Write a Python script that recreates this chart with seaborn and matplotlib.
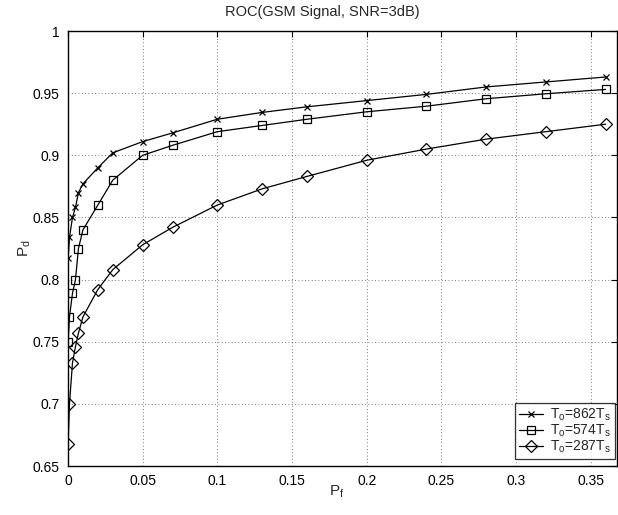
import numpy as np
import pandas as pd
import matplotlib
matplotlib.use("Agg")
import matplotlib.pyplot as plt
import seaborn as sns

# False-alarm probabilities (common to all curves)
pf = [0.0001, 0.001, 0.003, 0.005, 0.007, 0.01, 0.02, 0.03, 0.05, 0.07,
      0.1, 0.13, 0.16, 0.2, 0.24, 0.28, 0.32, 0.36]

# Detection probabilities for each observation time
pd_862 = [0.817, 0.834, 0.850, 0.858, 0.870, 0.877, 0.890, 0.902, 0.911, 0.918,
          0.929, 0.9345, 0.939, 0.944, 0.949, 0.955, 0.959, 0.963]
pd_574 = [0.750, 0.770, 0.789, 0.800, 0.825, 0.840, 0.860, 0.880, 0.900, 0.908,
          0.919, 0.924, 0.929, 0.935, 0.9395, 0.9455, 0.9495, 0.953]
pd_287 = [0.668, 0.700, 0.733, 0.746, 0.757, 0.770, 0.792, 0.808, 0.828, 0.842,
          0.860, 0.873, 0.883, 0.896, 0.905, 0.913, 0.919, 0.925]

labels = [r"T$_\mathrm{o}$=862T$_\mathrm{s}$",
          r"T$_\mathrm{o}$=574T$_\mathrm{s}$",
          r"T$_\mathrm{o}$=287T$_\mathrm{s}$"]
markers = ["x", "s", "D"]
msizes = [5, 6, 6]

x_ticks = [0, 0.05, 0.1, 0.15, 0.2, 0.25, 0.3, 0.35]
y_ticks = [0.65, 0.7, 0.75, 0.8, 0.85, 0.9, 0.95, 1]

sns.set_style("white")
plt.rcParams["font.family"] = ["Liberation Sans", "DejaVu Sans"]
plt.rcParams["mathtext.fontset"] = "custom"
plt.rcParams["mathtext.rm"] = "Liberation Sans"

fig = plt.figure(figsize=(6.18, 5.15), dpi=100)
W, H = 618, 515
ax = fig.add_axes([68 / W, 1 - 466 / H, (617 - 68) / W, (466 - 31) / H])

for vals, lab, mk, ms in zip([pd_862, pd_574, pd_287], labels, markers, msizes):
    df = pd.DataFrame({"Pf": pf, "Pd": vals})
    sns.lineplot(data=df, x="Pf", y="Pd", ax=ax, color="black", linewidth=0.9,
                 marker=mk, markersize=ms, markerfacecolor="none",
                 markeredgecolor="black", markeredgewidth=0.9, label=lab,
                 sort=False)

ax.set_xlim(0, 0.3676)
ax.set_ylim(0.65, 1.0)
ax.set_xticks(x_ticks)
ax.set_xticklabels([f"{v:g}" for v in x_ticks])
ax.set_yticks(y_ticks)
ax.set_yticklabels([f"{v:g}" for v in y_ticks])
ax.tick_params(direction="in", length=4, width=0.8, top=True, right=True,
               labelsize=10, colors="black", pad=6)
ax.grid(True, linestyle=(0, (1, 3)), color="black", linewidth=0.6, alpha=0.7)
for s in ax.spines.values():
    s.set_color("black")
    s.set_linewidth(1.0)

ax.set_xlabel("")
ax.set_ylabel("")
fig.text(337 / W, 1 - 492 / H, r"P$_\mathrm{f}$", ha="center", va="center", fontsize=11)
fig.text(25 / W, 1 - 248 / H, r"P$_\mathrm{d}$", ha="center", va="center",
         fontsize=11, rotation=90)
fig.text(322 / W, 1 - 12 / H, "ROC(GSM Signal, SNR=3dB)", ha="center", va="center",
         fontsize=10.5)

leg = ax.legend(loc="lower right", bbox_to_anchor=(615 / W, 1 - 459 / H),
                bbox_transform=fig.transFigure, frameon=True, fancybox=False,
                fontsize=10, borderaxespad=0.0, handlelength=1.7,
                handletextpad=0.5, labelspacing=-0.05, borderpad=0.3)
leg.get_frame().set_edgecolor("black")
leg.get_frame().set_linewidth(0.9)

fig.savefig("out.png", dpi=100, facecolor="white")
